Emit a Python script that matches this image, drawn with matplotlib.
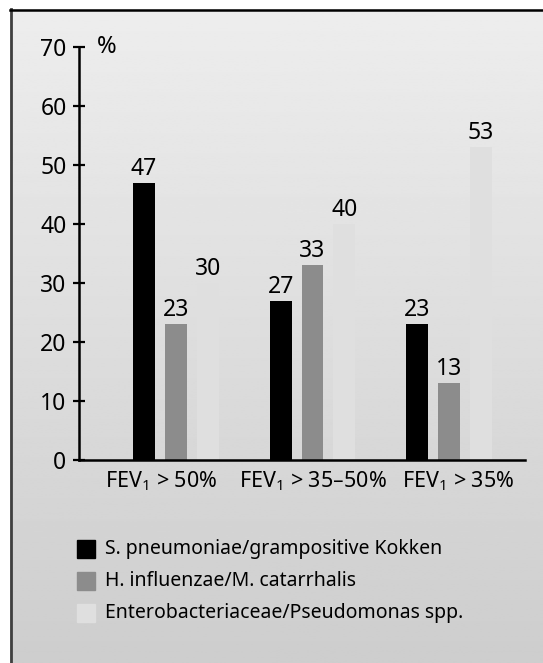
import numpy as np
import matplotlib
matplotlib.use('Agg')
import matplotlib.pyplot as plt
from matplotlib.patches import Rectangle

plt.rcParams['font.family'] = ['Noto Sans', 'DejaVu Sans']
plt.rcParams['mathtext.default'] = 'regular'

# data
groups = ['FEV$_1$ > 50%', 'FEV$_1$ > 35–50%', 'FEV$_1$ > 35%']
label_shift = [-0.11, 0.0, 0.07]   # group captions sit slightly off-centre
series = ['S. pneumoniae/grampositive Kokken',
          'H. influenzae/M. catarrhalis',
          'Enterobacteriaceae/Pseudomonas spp.']
pneumo = [47, 27, 23]
haemo = [23, 33, 13]
entero = [30, 40, 53]
colors = ['#000000', '#8c8c8c', '#dfdfdf']

W, H = 543, 663
fig = plt.figure(figsize=(W / 100, H / 100), dpi=100)

# background panel with soft vertical gradient, framed left/top
bg = fig.add_axes([0, 0, 1, 1])
bg.set_xlim(0, W)
bg.set_ylim(H, 0)
bg.axis('off')
grad = np.linspace(0.93, 0.805, 256)[:, None]
bg.imshow(grad, cmap='gray', vmin=0, vmax=1, extent=(10, W, H, 9), aspect='auto')
bg.plot([10.5, 10.5], [9, H], color='#404040', lw=2)
bg.plot([9.5, W], [9.5, 9.5], color='black', lw=1.8)

ax = fig.add_axes([79 / W, (H - 460) / H, 446 / W, 413 / H])
ax.set_facecolor('none')

x = np.arange(len(groups))
width = 0.161
pitch = 0.234
for i, (vals, c) in enumerate(zip([pneumo, haemo, entero], colors)):
    bars = ax.bar(x + (i - 1) * pitch, vals, width=width, color=c, zorder=2)
    ax.bar_label(bars, padding=1.5, fontsize=16.5)

ax.set_xlim(-0.711, 2.557)
ax.set_ylim(0, 70)
ax.set_yticks(range(0, 71, 10))
ax.set_xticks(x + np.array(label_shift))
ax.set_xticklabels(groups, fontsize=15.5)
ax.tick_params(axis='x', length=0, pad=7)
ax.tick_params(axis='y', direction='inout', length=8, width=1.6, pad=5, labelsize=16.5)
for s in ['top', 'right']:
    ax.spines[s].set_visible(False)
for s in ['left', 'bottom']:
    ax.spines[s].set_linewidth(1.8)
ax.text(0.04, 70, '%', transform=ax.get_yaxis_transform(), fontsize=17,
        ha='left', va='center')

# legend drawn in pixel space of background
for i, (name, c) in enumerate(zip(series, colors)):
    y0 = 540 + i * 32
    bg.add_patch(Rectangle((77, y0), 18, 18, color=c))
    bg.text(105, y0 + 9, name, fontsize=14, va='center', ha='left')

fig.savefig('out.png', dpi=100)
